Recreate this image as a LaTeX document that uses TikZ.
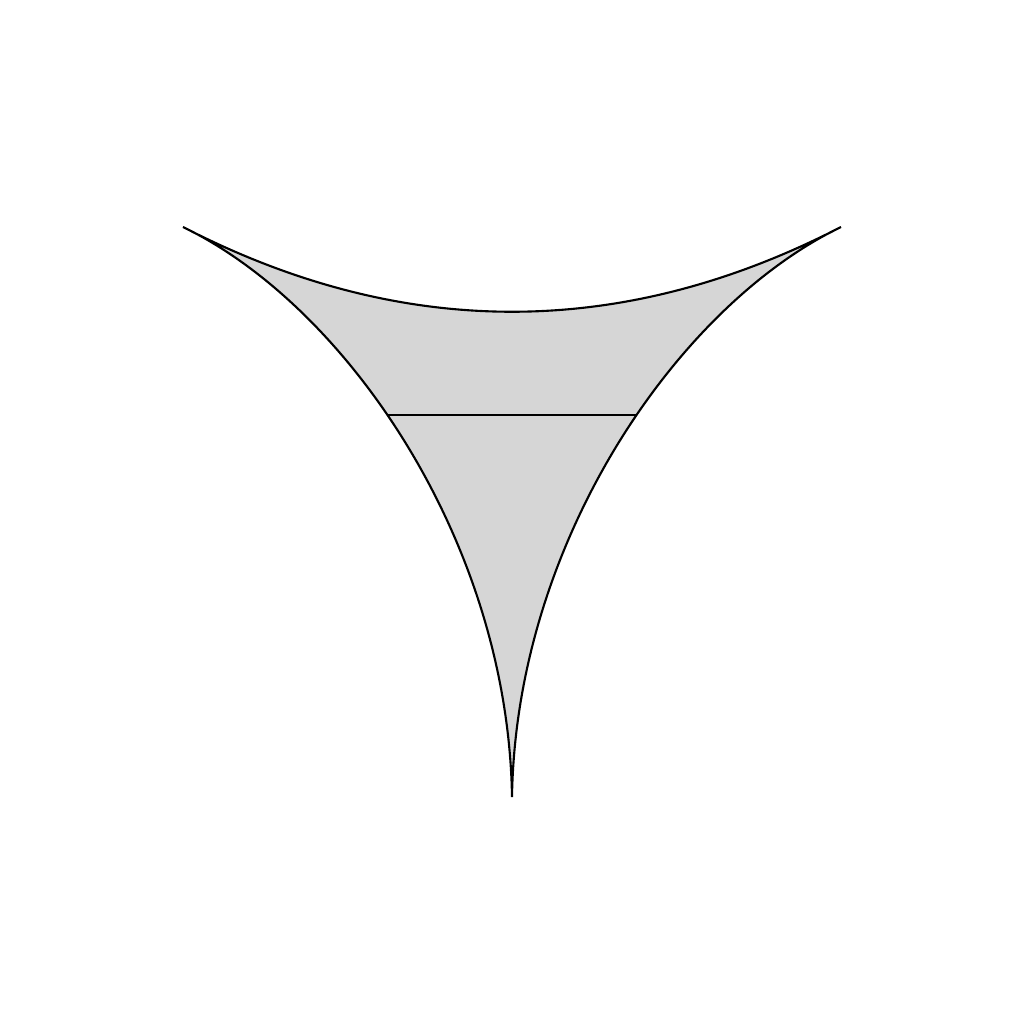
\documentclass[tikz,border=0pt]{standalone}
\usepackage{tikz}

\begin{document}
\begin{tikzpicture}
		%%%%% START %%%%%
		
		\useasboundingbox (0, 0) rectangle (10.24, 10.24);
		
		\coordinate (left) at (1.83, 7.97);
		\coordinate (right) at (8.41, 7.97);
		\coordinate (bottom) at (5.12, 2.27);
		
		\draw[line width=0.6pt, fill=black!16] (left) .. controls (4.02, 6.84) and (6.22, 6.84) .. (right)
			.. controls (6.79, 7.19) and (5.16, 4.84) .. (bottom)
			.. controls (5.08, 4.84) and (3.45, 7.19) .. (left) -- cycle;
		
		\draw[line width=0.6pt] (3.875, 6.09) -- (6.365, 6.09);
		
		%%%%% END %%%%%
	\end{tikzpicture}
\end{document}
